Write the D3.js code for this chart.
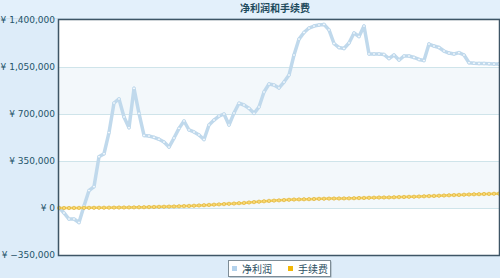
<!DOCTYPE html>
<html><head><meta charset="utf-8">
<script src="https://cdn.jsdelivr.net/npm/d3@7/dist/d3.min.js"></script>
<style>html,body{margin:0;padding:0;background:#ddecf9;}svg{display:block;}</style>
</head><body>
<script>
const title = "净利润和手续费";
const seriesNames = ["净利润", "手续费"];
const yTicks = [-350000, 0, 350000, 700000, 1050000, 1400000];
const netProfit = [5000,-37000,-82000,-82000,-108000,15000,130000,159000,382000,404000,
562000,782000,812000,678000,598000,891000,705000,540000,536000,526000,
512000,491000,454000,521000,593000,648000,581000,566000,544000,510000,
618000,655000,685000,700000,618000,707000,780000,767000,742000,705000,
752000,864000,923000,916000,894000,938000,990000,1139000,1258000,1307000,
1340000,1355000,1363000,1367000,1326000,1225000,1195000,1188000,1229000,1303000,
1277000,1355000,1147000,1147000,1147000,1143000,1113000,1139000,1102000,1132000,
1132000,1121000,1106000,1098000,1221000,1206000,1195000,1169000,1154000,1147000,
1157000,1139000,1082000,1078000,1076000,1076000,1075000,1072000,1072000];
const fee = [0,0,0,500,800,1000,1200,1500,1800,2200,
2600,3000,3400,3800,4300,4800,5400,6000,6800,7600,
8500,9500,10500,11500,12800,14000,15500,17000,19000,21000,
23000,25000,27000,29000,31000,33000,36000,38000,41000,44000,
47000,50000,53000,55000,57000,59000,61000,63000,64000,65000,
66000,67000,68000,69000,70000,70500,71000,71500,72000,73000,
74000,75000,76000,77000,78000,78500,79000,80000,81000,82000,
83000,84000,85500,87000,88500,90000,91500,93000,94500,96000,
97500,99000,100500,102000,103000,104000,105000,106000,107000];
const categories = d3.range(netProfit.length).map(i => "D" + (i+1));

const W = 500, H = 278;
const M = {left: 59, right: 1, top: 20, bottom: 23};
const svg = d3.select("body").append("svg").attr("width", W).attr("height", H);

// title bar
svg.append("rect").attr("x",0).attr("y",0).attr("width",W).attr("height",18).attr("fill","#e3f0fb");
svg.append("line").attr("x1",0).attr("x2",W).attr("y1",18.5).attr("y2",18.5).attr("stroke","#cfe0ee");
svg.append("text").attr("x",275).attr("y",12).attr("text-anchor","middle")
  .attr("font-family","'Noto Sans CJK SC', sans-serif").attr("font-size",10).attr("font-weight","bold")
  .attr("fill","#1d4a5c").text(title);

const x = d3.scalePoint().domain(categories).range([M.left, W - M.right]);
const y = d3.scaleLinear().domain([-350000, 1400000]).range([H - M.bottom, M.top]);

// plot bg
svg.append("rect").attr("x", M.left).attr("y", M.top).attr("width", W - M.right - M.left)
  .attr("height", H - M.bottom - M.top).attr("fill", "#ffffff");
// bands
[[0,350000],[700000,1050000]].forEach(b => {
  svg.append("rect").attr("x", M.left).attr("width", W - M.right - M.left)
    .attr("y", y(b[1])).attr("height", y(b[0]) - y(b[1])).attr("fill", "#f3f8fb");
});
// grid
yTicks.slice(1,-1).forEach(t => {
  svg.append("line").attr("x1", M.left).attr("x2", W - M.right)
    .attr("y1", Math.round(y(t))+0.5).attr("y2", Math.round(y(t))+0.5)
    .attr("stroke", "#cfe4ea").attr("stroke-width", 1);
});

// y axis labels
const fmt = d3.format(",");
const yAxis = d3.axisLeft(y).tickValues(yTicks).tickSize(0).tickPadding(4)
  .tickFormat(d => "¥ " + fmt(d));
const ga = svg.append("g").attr("transform", `translate(${M.left},0)`).call(yAxis);
ga.select(".domain").remove();
ga.selectAll("text").attr("font-family","'DejaVu Sans', Verdana, sans-serif").attr("font-size",9)
  .attr("fill","#24546a");

// net profit line
const line = d3.line().x((d,i) => x(categories[i])).y(d => y(d));
svg.append("path").datum(netProfit).attr("d", line).attr("fill","none")
  .attr("stroke","#c0d9ec").attr("stroke-width",3.5).attr("stroke-linejoin","round");
svg.append("g").selectAll("circle").data(netProfit).join("circle")
  .attr("cx",(d,i)=>x(categories[i])).attr("cy",d=>y(d)).attr("r",1.4)
  .attr("fill","#f4f9fd").attr("stroke","#afcee6").attr("stroke-width",0.6);

// fee line
svg.append("path").datum(fee).attr("d", line).attr("fill","none")
  .attr("stroke","#f4d060").attr("stroke-width",2.5);
svg.append("g").selectAll("circle").data(fee).join("circle")
  .attr("cx",(d,i)=>x(categories[i])).attr("cy",d=>y(d)).attr("r",1.7)
  .attr("fill","#f8d872").attr("stroke","#dcb038").attr("stroke-width",0.6);

// border
svg.append("rect").attr("x", M.left-0.5).attr("y", M.top-0.5)
  .attr("width", W - M.right - M.left + 1).attr("height", H - M.bottom - M.top + 1)
  .attr("fill","none").attr("stroke","#3e5566").attr("stroke-width",1.5);

// legend
const lg = svg.append("g");
lg.append("rect").attr("x",229.5).attr("y",261.5).attr("width",102).attr("height",16).attr("fill","#9aa8b2");
lg.append("rect").attr("x",228.5).attr("y",260.5).attr("width",102).attr("height",16)
  .attr("fill","#ffffff").attr("stroke","#7d8c96").attr("stroke-width",1);
const colors = ["#b3d2ec", "#f2b705"];
const lx = [232, 288], tx = [242, 298];
seriesNames.forEach((n,i) => {
  lg.append("rect").attr("x",lx[i]).attr("y",266).attr("width",5).attr("height",5).attr("fill",colors[i]);
  lg.append("text").attr("x",tx[i]).attr("y",272.5).attr("font-family","'Noto Sans CJK SC', sans-serif")
    .attr("font-size",10).attr("fill","#2d4f63").text(n);
});
</script>
</body></html>
